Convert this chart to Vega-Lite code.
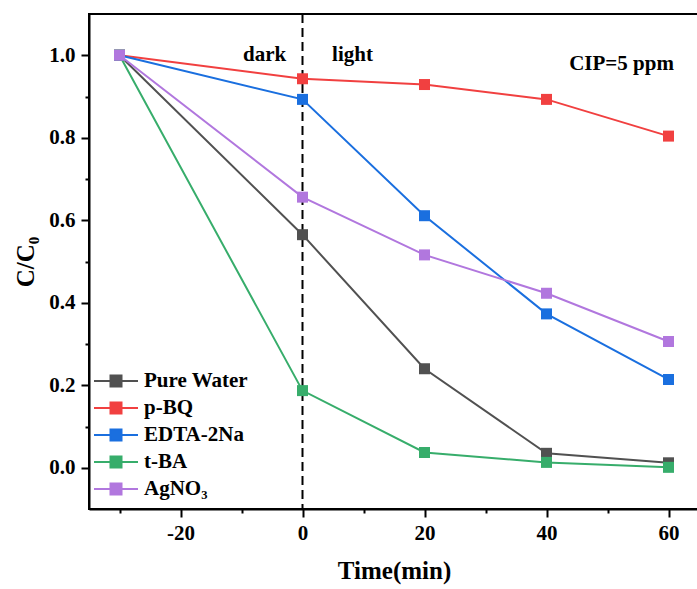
{
  "$schema": "https://vega.github.io/schema/vega-lite/v6.json",
  "autosize": "none",
  "padding": {"left": 89, "top": 14, "right": 0, "bottom": 80},
  "width": 610,
  "height": 495,
  "config": {
    "font": "Liberation Serif",
    "view": {"stroke": "black", "strokeWidth": 2},
    "axis": {
      "grid": false,
      "domainColor": "black",
      "domainWidth": 2,
      "tickColor": "black",
      "tickWidth": 2,
      "labelFont": "Liberation Serif",
      "labelFontWeight": "bold",
      "labelFontSize": 21,
      "labelColor": "black",
      "titleFont": "Liberation Serif",
      "titleFontWeight": "bold",
      "titleFontSize": 25,
      "titleColor": "black"
    },
    "legend": {
      "labelFont": "Liberation Serif",
      "labelFontWeight": "bold",
      "labelFontSize": 21,
      "labelColor": "black"
    }
  },
  "datasets": {
    "series": [
      {"t": -30, "c": 1.0, "s": "Pure Water"},
      {"t": 0, "c": 0.565, "s": "Pure Water"},
      {"t": 20, "c": 0.24, "s": "Pure Water"},
      {"t": 40, "c": 0.035, "s": "Pure Water"},
      {"t": 60, "c": 0.012, "s": "Pure Water"},
      {"t": -30, "c": 1.0, "s": "p-BQ"},
      {"t": 0, "c": 0.943, "s": "p-BQ"},
      {"t": 20, "c": 0.929, "s": "p-BQ"},
      {"t": 40, "c": 0.893, "s": "p-BQ"},
      {"t": 60, "c": 0.804, "s": "p-BQ"},
      {"t": -30, "c": 1.0, "s": "EDTA-2Na"},
      {"t": 0, "c": 0.893, "s": "EDTA-2Na"},
      {"t": 20, "c": 0.611, "s": "EDTA-2Na"},
      {"t": 40, "c": 0.373, "s": "EDTA-2Na"},
      {"t": 60, "c": 0.214, "s": "EDTA-2Na"},
      {"t": -30, "c": 1.0, "s": "t-BA"},
      {"t": 0, "c": 0.187, "s": "t-BA"},
      {"t": 20, "c": 0.037, "s": "t-BA"},
      {"t": 40, "c": 0.013, "s": "t-BA"},
      {"t": 60, "c": 0.001, "s": "t-BA"},
      {"t": -30, "c": 1.0, "s": "AgNO₃"},
      {"t": 0, "c": 0.656, "s": "AgNO₃"},
      {"t": 20, "c": 0.516, "s": "AgNO₃"},
      {"t": 40, "c": 0.423, "s": "AgNO₃"},
      {"t": 60, "c": 0.306, "s": "AgNO₃"}
    ],
    "notes": [
      {"t": -6.2, "c": 1.0, "label": "dark"},
      {"t": 8.2, "c": 1.0, "label": "light"},
      {"t": 52.3, "c": 0.978, "label": "CIP=5 ppm"}
    ],
    "divider": [{"t": 0}]
  },
  "encoding": {
    "x": {
      "field": "t", "type": "quantitative",
      "scale": {"domain": [-35, 65], "nice": false, "zero": false},
      "axis": {
        "title": "Time(min)",
        "values": [-30, -20, -10, 0, 10, 20, 30, 40, 50, 60],
        "labelExpr": "datum.value % 20 === 0 ? toString(datum.value) : ''",
        "tickSize": {"condition": {"test": "datum.value % 20 !== 0", "value": 4}, "value": 8},
        "labelPadding": 5,
        "titlePadding": 15
      }
    },
    "y": {
      "field": "c", "type": "quantitative",
      "scale": {"domain": [-0.1, 1.1], "nice": false, "zero": false},
      "axis": {
        "title": "C/C₀",
        "values": [0, 0.1, 0.2, 0.3, 0.4, 0.5, 0.6, 0.7, 0.8, 0.9, 1.0],
        "labelExpr": "round(datum.value * 10) % 2 === 0 ? format(datum.value, '.1f') : ''",
        "tickSize": {"condition": {"test": "round(datum.value * 10) % 2 !== 0", "value": 4}, "value": 8},
        "labelPadding": 6,
        "titlePadding": 10
      }
    }
  },
  "layer": [
    {
      "data": {"name": "divider"},
      "mark": {"type": "rule", "color": "black", "strokeWidth": 2, "strokeDash": [9, 5]},
      "encoding": {"y": null}
    },
    {
      "data": {"name": "series"},
      "mark": {"type": "line", "strokeWidth": 2},
      "encoding": {
        "color": {
          "field": "s", "type": "nominal",
          "scale": {
            "domain": ["Pure Water", "p-BQ", "EDTA-2Na", "t-BA", "AgNO₃"],
            "range": ["#515151", "#F14040", "#1A6FDF", "#37AD6B", "#B177DE"]
          },
          "legend": {
            "title": null,
            "orient": "none",
            "legendX": 15,
            "legendY": 355,
            "padding": 0,
            "symbolType": "M-2,0H2M-0.5,-0.5H0.5V0.5H-0.5Z",
            "symbolSize": 484,
            "symbolStrokeWidth": 2,
            "labelOffset": 16,
            "rowPadding": 5,
            "encode": {
              "symbols": {
                "update": {
                  "fill": {"scale": "color", "field": "value"},
                  "stroke": {"scale": "color", "field": "value"},
                  "opacity": {"value": 1}
                }
              }
            }
          }
        }
      }
    },
    {
      "data": {"name": "series"},
      "mark": {"type": "point", "shape": "square", "filled": true, "size": 121, "opacity": 1},
      "encoding": {
        "color": {"field": "s", "type": "nominal", "legend": null}
      }
    },
    {
      "data": {"name": "notes"},
      "mark": {"type": "text", "font": "Liberation Serif", "fontWeight": "bold", "fontSize": 21, "color": "black", "baseline": "middle", "align": "center"},
      "encoding": {"text": {"field": "label"}}
    }
  ]
}
